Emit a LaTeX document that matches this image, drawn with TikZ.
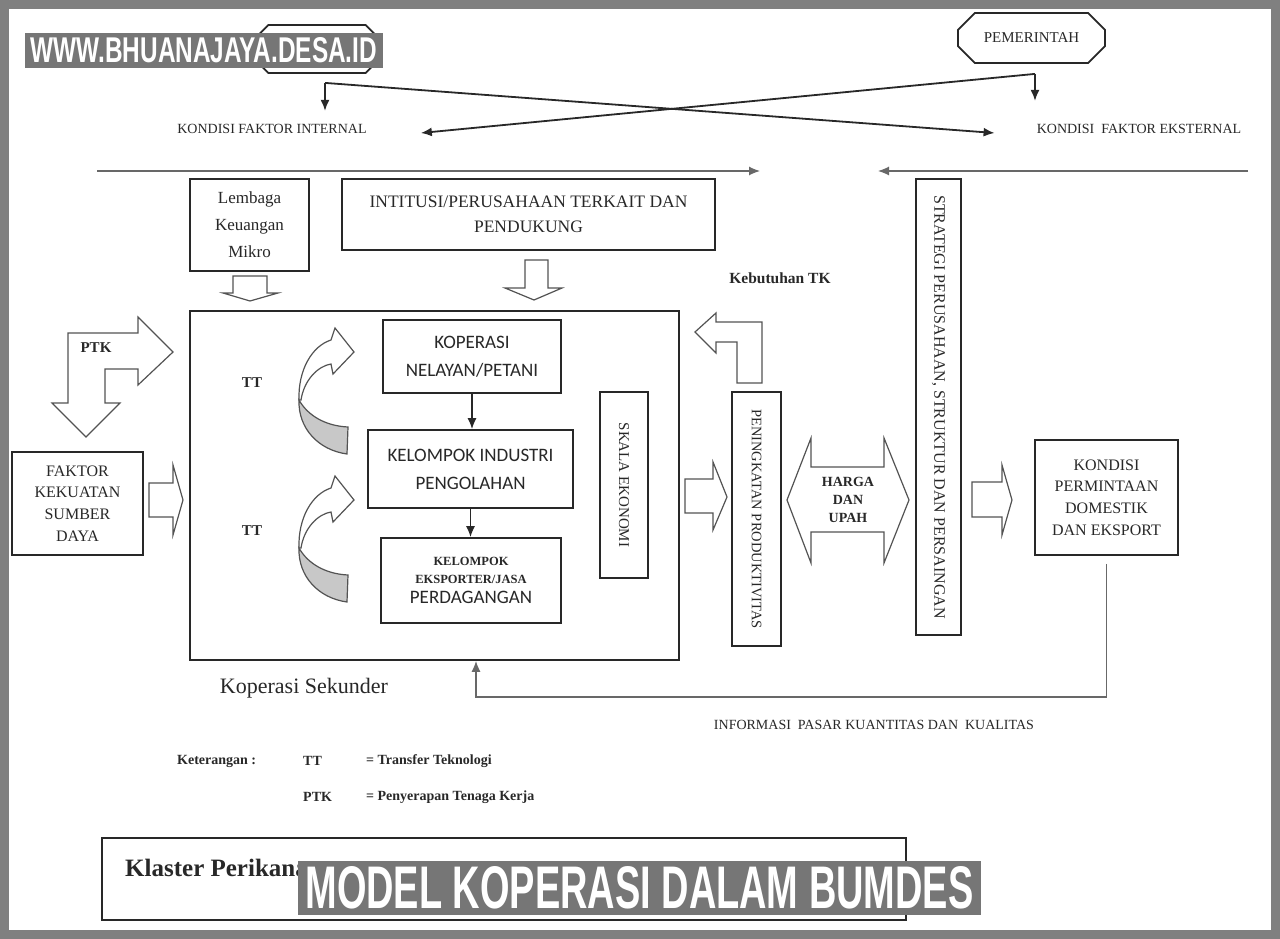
\documentclass[tikz,border=0pt]{standalone}
\usepackage{fontspec}
\setmainfont{Liberation Serif}
\newfontfamily\calfont{Carlito}
\newfontfamily\wmfont{Liberation Sans}
\usetikzlibrary{arrows.meta,shapes.misc,calc}
\definecolor{wmgray}{RGB}{118,118,118}
\definecolor{tepi}{RGB}{128,128,128}
\definecolor{ink}{RGB}{40,40,40}
\definecolor{shade}{RGB}{200,200,200}
\newcommand{\fs}[2]{\fontsize{#1}{#2}\selectfont}

\begin{document}
\begin{tikzpicture}[x=1pt,y=-1pt,
box/.style={draw=ink,line width=1.8pt,inner sep=0pt,align=center,text=ink},
okta/.style={box,chamfered rectangle,chamfered rectangle xsep=12pt,chamfered rectangle ysep=12pt},
garis/.style={draw=ink,line width=1.8pt},
panah/.style={garis,-{Latex[length=11pt,width=9pt]}},
blok/.style={draw=ink!80,line width=1.2pt,fill=white,line join=miter},
lbl/.style={inner sep=0pt,text=ink},
wm/.style={fill=wmgray,text=white,inner sep=0pt}]
\useasboundingbox (0,0) rectangle (1280,939);
\fill[tepi] (0,0) rectangle (1280,939);
\fill[white] (9,9) rectangle (1271,930);

% atas
\node[okta,chamfered rectangle xsep=8pt,chamfered rectangle ysep=8pt,minimum width=120,minimum height=48] (ok) at (317,49) {\phantom{PEMERINTAH}};
\node[okta,minimum width=147,minimum height=50,font=\fs{15}{18}] (pm) at (1031.5,38) {PEMERINTAH};
\node[lbl,font=\fs{14}{16}] (kfi) at (272,129) {KONDISI FAKTOR INTERNAL};
\node[lbl,font=\fs{14}{16}] (kfe) at (1139,129) {KONDISI\ \ FAKTOR EKSTERNAL};
\coordinate (jL) at ([xshift=8pt,yshift=-9pt]ok.south);
\coordinate (jR) at ([xshift=3.5pt,yshift=-10pt]pm.south);
\draw[panah] (jL) -- ++(0,28);
\draw[panah] (jR) -- ++(0,27);
\draw[panah] (jL) -- ($(kfe.west)+(-42,4)$);
\draw[panah] (jR) -- ($(kfi.east)+(54,4)$);
\coordinate (hL) at (97,171);
\coordinate (hR) at (1248,171);
\draw[panah,line width=1.2pt,draw=ink!70] (hL) -- (760,171);
\draw[panah,line width=1.2pt,draw=ink!70] (hR) -- (878,171);

% kotak
\node[box,minimum width=119,minimum height=92,font=\fs{17}{27}] (lkm) at (249.5,225) {Lembaga\\Keuangan\\Mikro};
\node[box,minimum width=373,minimum height=71,font=\fs{17.5}{25}] (ins) at (528.5,214.5) {INTITUSI/PERUSAHAAN TERKAIT DAN\\PENDUKUNG};
\node[box,minimum width=489,minimum height=349] (ks) at (434.5,485.5) {};
\node[box,minimum width=178,minimum height=73,font=\calfont\fs{19}{28}] (kp) at (472,356.5) {KOPERASI\\NELAYAN/PETANI};
\node[box,minimum width=205,minimum height=78,font=\calfont\fs{19}{28}] (ki) at (470.5,469) {KELOMPOK INDUSTRI\\PENGOLAHAN};
\node[box,minimum width=180,minimum height=85,font=\fs{12.5}{18}\bfseries] (ke) at (471,580.5) {KELOMPOK\\EKSPORTER/JASA\\[2pt]{\calfont\mdseries\fs{19}{22}PERDAGANGAN}};
\node[box,rotate=-90,minimum width=186,minimum height=48,font=\fs{15}{18}] (se) at (624,485) {SKALA EKONOMI};
\node[box,minimum width=131,minimum height=103,font=\fs{16}{21.7}] (fk) at (77.5,503.5) {FAKTOR\\KEKUATAN\\SUMBER\\DAYA};
\node[box,rotate=-90,minimum width=254,minimum height=49,font=\fs{14.5}{18}] (pk) at (756.5,519) {PENINGKATAN PRODUKTIVITAS};
\node[box,rotate=-90,minimum width=456,minimum height=45,font=\fs{16}{18}] (sp) at (938.5,407) {STRATEGI PERUSAHAAN, STRUKTUR DAN PERSAINGAN};
\node[box,minimum width=143,minimum height=115,font=\fs{16}{21.7}] (kd) at (1106.5,497.5) {KONDISI\\PERMINTAAN\\DOMESTIK\\DAN EKSPORT};

\draw[panah,line width=1.4pt] (kp.south) -- (kp.south |- ki.north);
\draw[panah,line width=1.4pt] (ki.south) -- (ki.south |- ke.north);
\coordinate (fb) at (476,697);
\draw[panah,line width=1.3pt,draw=ink!70] ([yshift=-8pt]kd.south) |- (fb) -- (fb |- ks.south);

% panah blok
\draw[blok] (233,276) -- (267,276) -- (267,293) -- (278,293) -- (250,301) -- (223,293) -- (233,293) -- cycle;
\draw[blok] (525,260) -- (548,260) -- (548,288) -- (562,288) -- (534,300) -- (505,288) -- (525,288) -- cycle;
\draw[blok] (149,483) -- (173,483) -- (173,465) -- (183,500) -- (173,535) -- (173,517) -- (149,517) -- cycle;
\draw[blok] (685,479) -- (713,479) -- (713,462) -- (727,497) -- (713,530) -- (713,513) -- (685,513) -- cycle;
\draw[blok] (972,482) -- (1002,482) -- (1002,465) -- (1012,500) -- (1002,535) -- (1002,517) -- (972,517) -- cycle;
\draw[blok] (787,500) -- (811,438) -- (811,467) -- (884,467) -- (884,438) -- (909,500) -- (884,563) -- (884,532) -- (811,532) -- (811,563) -- cycle;
\draw[blok] (68,403) -- (68,333) -- (138,333) -- (138,317) -- (173,352) -- (138,385) -- (138,369) -- (105,369) -- (105,403) -- (120,403) -- (86,437) -- (52,403) -- cycle;
\draw[blok] (737,383) -- (737,342) -- (716,342) -- (716,353) -- (695,332) -- (716,313) -- (716,322) -- (762,322) -- (762,383) -- cycle;
\foreach \dy in {0,148}{
  \begin{scope}[shift={(0,\dy)}]
  \draw[blok,fill=shade] (299,400) .. controls (298,428) and (318,450) .. (347,454) -- (348,427) .. controls (326,426) and (308,416) .. (299,400) -- cycle;
  \draw[blok] (299,400) .. controls (298,370) and (312,346) .. (331,340) -- (335,328) -- (354,352) -- (333,374) -- (331,364) .. controls (318,366) and (304,380) .. (301,400) -- cycle;
  \end{scope}
}

% label
\node[lbl,font=\fs{14}{18}\bfseries,align=center] (hu) at (848,500) {HARGA\\DAN\\UPAH};
\node[lbl,font=\fs{15}{18}\bfseries] (ptk) at (96,348) {PTK};
\node[lbl,font=\fs{15}{18}\bfseries] (tt1) at (252,383) {TT};
\node[lbl,font=\fs{15}{18}\bfseries] (tt2) at (252,531) {TT};
\node[lbl,font=\fs{15.5}{18}\bfseries] (ktk) at (780,278) {Kebutuhan TK};
\node[lbl,font=\fs{22}{26}] (kse) at (304,688) {Koperasi Sekunder};
\node[lbl,font=\fs{14}{16}] (inf) at (874,725) {INFORMASI\ \ PASAR KUANTITAS DAN\ \ KUALITAS};

% keterangan
\node[lbl,anchor=west,font=\fs{14}{16}\bfseries] (ket) at (177,761) {Keterangan :};
\node[lbl,anchor=west,font=\fs{14}{16}\bfseries] (k1) at (303,761) {TT};
\node[lbl,anchor=west,font=\fs{14}{16}\bfseries] (k1b) at (366,761) {= Transfer Teknologi};
\node[lbl,anchor=west,font=\fs{14}{16}\bfseries] (k2) at (303,797) {PTK};
\node[lbl,anchor=west,font=\fs{14}{16}\bfseries] (k2b) at (366,797) {= Penyerapan Tenaga Kerja};

% judul
\node[box,minimum width=804,minimum height=82] (jd) at (504,879) {};
\node[lbl,anchor=west,font=\fs{25}{28}\bfseries] (jt) at (125,868) {Klaster Perikanan};

% watermark
\node[wm,minimum width=358,minimum height=35] (web) at (204,50.5) {\resizebox{346pt}{25pt}{\wmfont\bfseries WWW.BHUANAJAYA.DESA.ID}};
\node[wm,minimum width=683,minimum height=54] (mk) at (639.5,888) {\resizebox{668pt}{42pt}{\wmfont\bfseries MODEL KOPERASI DALAM BUMDES}};
\end{tikzpicture}
\end{document}
